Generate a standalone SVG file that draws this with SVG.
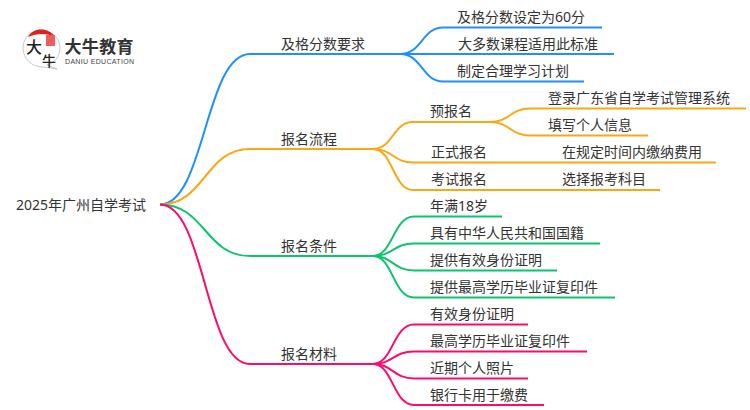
<svg xmlns="http://www.w3.org/2000/svg" width="750" height="410" viewBox="0 0 750 410">
<style>
text{font-family:"Noto Sans","Noto Sans CJK SC","Liberation Sans",sans-serif;font-size:14px;fill:#333}
.c{fill:none;stroke-width:2}
.b{stroke:#1e90ff}.o{stroke:#f9a815}.g{stroke:#0cc46e}.p{stroke:#ff0a6c}
</style>
<rect width="750" height="410" fill="#fff"/>
<g id="connectors">
<path class="c b" d="M160 204.500C205 204.500 205 54 250 54H400"/>
<path class="c b" d="M400 54C422 54 422 27.500 443 27.500H602"/>
<path class="c b" d="M400 54H614"/>
<path class="c b" d="M400 54C422 54 422 81.500 443 81.500H584"/>
<path class="c o" d="M160 204.500C205 204.500 205 149 250 149H373"/>
<path class="c o" d="M373 149C393 149 393 122 413 122H495"/>
<path class="c o" d="M373 149C393 149 393 162.500 413 162.500H716"/>
<path class="c o" d="M373 149C393 149 393 190 413 190H660"/>
<path class="c o" d="M490 122C510 122 510 108.500 530 108.500H746"/>
<path class="c o" d="M490 122C510 122 510 135.500 530 135.500H648"/>
<path class="c g" d="M160 204.500C205 204.500 205 256 250 256H373"/>
<path class="c g" d="M373 256C393 256 393 216.500 414 216.500H502"/>
<path class="c g" d="M373 256C393 256 393 243.500 414 243.500H600"/>
<path class="c g" d="M373 256C393 256 393 270.500 414 270.500H557"/>
<path class="c g" d="M373 256C393 256 393 297.500 414 297.500H615"/>
<path class="c p" d="M160 204.500C205 204.500 205 364 250 364H373"/>
<path class="c p" d="M373 364C393 364 393 324.500 414 324.500H528"/>
<path class="c p" d="M373 364C393 364 393 351.500 414 351.500H587"/>
<path class="c p" d="M373 364C393 364 393 378.500 414 378.500H528"/>
<path class="c p" d="M373 364C393 364 393 405 414 405H544"/>
</g>
<g id="logo">
<path d="M41 30C51 30 60 38 60 48C60 57 54 63 47 65L57 69L43 67C32 67 23 59 23 48C23 38 31 30 41 30Z" fill="#fff" stroke="#bbb" stroke-width="0.800"/>
<path d="M28 37C33 27 49 27 55 37C47 33 37 33 28 37Z" fill="#e0201c"/>
<rect x="46" y="35" width="9" height="11" fill="#e8605c"/>
<text x="26" y="53" style="font-size:16px;font-weight:500;fill:#222">大</text>
<text x="42" y="66" style="font-size:14px;font-weight:500;fill:#222">牛</text>
<text x="64.500" y="53" textLength="69" style="font-size:17px;font-weight:700;fill:#333">大牛教育</text>
<text x="65" y="64" textLength="69" style="font-size:7px;fill:#444;font-family:'Liberation Sans',sans-serif">DANIU EDUCATION</text>
</g>
<g id="root"><text x="16" y="210">2025年广州自学考试</text></g>
<g id="n1"><text x="281" y="49">及格分数要求</text></g>
<g id="n1a"><text x="457" y="22">及格分数设定为60分</text></g>
<g id="n1b"><text x="458" y="49">大多数课程适用此标准</text></g>
<g id="n1c"><text x="457" y="76">制定合理学习计划</text></g>
<g id="n2"><text x="281" y="144">报名流程</text></g>
<g id="n2a"><text x="430" y="116">预报名</text></g>
<g id="n2a1"><text x="548" y="103">登录广东省自学考试管理系统</text></g>
<g id="n2a2"><text x="548" y="130">填写个人信息</text></g>
<g id="n2b"><text x="431" y="157">正式报名</text></g>
<g id="n2b1"><text x="562" y="157">在规定时间内缴纳费用</text></g>
<g id="n2c"><text x="431" y="184">考试报名</text></g>
<g id="n2c1"><text x="562" y="184">选择报考科目</text></g>
<g id="n3"><text x="281" y="251">报名条件</text></g>
<g id="n3a"><text x="430" y="211">年满18岁</text></g>
<g id="n3b"><text x="430" y="238">具有中华人民共和国国籍</text></g>
<g id="n3c"><text x="430" y="265">提供有效身份证明</text></g>
<g id="n3d"><text x="430" y="292">提供最高学历毕业证复印件</text></g>
<g id="n4"><text x="281" y="359">报名材料</text></g>
<g id="n4a"><text x="430" y="319">有效身份证明</text></g>
<g id="n4b"><text x="430" y="346">最高学历毕业证复印件</text></g>
<g id="n4c"><text x="430" y="373">近期个人照片</text></g>
<g id="n4d"><text x="430" y="400">银行卡用于缴费</text></g>
</svg>
